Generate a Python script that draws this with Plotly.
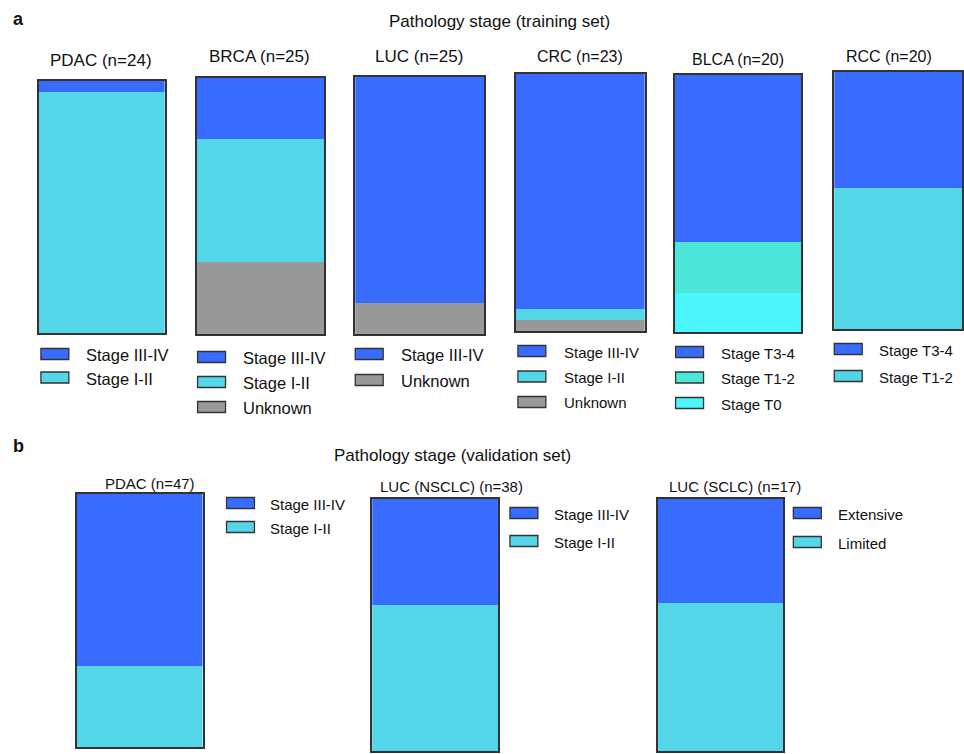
import plotly.graph_objects as go

W, H = 964, 754
FONT = "Liberation Sans, Arial, Helvetica, sans-serif"

# ---------------- data ----------------
panels = ["PDAC (n=24)", "BRCA (n=25)", "LUC (n=25)", "CRC (n=23)", "BLCA (n=20)", "RCC (n=20)",
          "PDAC (n=47)", "LUC (NSCLC) (n=38)", "LUC (SCLC) (n=17)"]

# categories per panel, listed bottom -> top of the stack
pdac_a_cats = ["Stage I-II", "Stage III-IV"]
pdac_a_vals = [23, 1]
brca_cats = ["Unknown", "Stage I-II", "Stage III-IV"]
brca_vals = [7, 12, 6]
luc_cats = ["Unknown", "Stage III-IV"]
luc_vals = [3, 22]
crc_cats = ["Unknown", "Stage I-II", "Stage III-IV"]
crc_vals = [1, 1, 21]
blca_cats = ["Stage T0", "Stage T1-2", "Stage T3-4"]
blca_vals = [3, 4, 13]
rcc_cats = ["Stage T1-2", "Stage T3-4"]
rcc_vals = [11, 9]
pdac_b_cats = ["Stage I-II", "Stage III-IV"]
pdac_b_vals = [15, 32]
nsclc_cats = ["Stage I-II", "Stage III-IV"]
nsclc_vals = [22, 16]
sclc_cats = ["Limited", "Extensive"]
sclc_vals = [10, 7]

BLUE, CYAN, GREY, TEAL, AQUA = "#386CFF", "#52D6E8", "#999999", "#4DE6DA", "#4CF7FC"
cat_colors = {
    "Stage III-IV": BLUE, "Stage I-II": CYAN, "Unknown": GREY,
    "Stage T3-4": BLUE, "Stage T1-2": CYAN, "Stage T0": AQUA,
    "Extensive": BLUE, "Limited": CYAN,
}
blca_colors = {"Stage T3-4": BLUE, "Stage T1-2": TEAL, "Stage T0": AQUA}

series = [
    (pdac_a_cats, pdac_a_vals, cat_colors),
    (brca_cats, brca_vals, cat_colors),
    (luc_cats, luc_vals, cat_colors),
    (crc_cats, crc_vals, cat_colors),
    (blca_cats, blca_vals, blca_colors),
    (rcc_cats, rcc_vals, cat_colors),
    (pdac_b_cats, pdac_b_vals, cat_colors),
    (nsclc_cats, nsclc_vals, cat_colors),
    (sclc_cats, sclc_vals, cat_colors),
]

# ---------------- layout (pixels) ----------------
# bar box: x0, x1, top, bottom
boxes = [(39, 165, 81, 333), (197, 325, 78, 334), (356, 485, 77, 334),
         (517, 646, 74, 331), (676, 803, 75, 332), (836, 964, 72, 329),
         (77, 203, 494, 747), (373, 499, 499, 751), (659, 785, 499, 751)]
# title center x, y, size
titles = [(101, 60, 17), (260, 56, 17), (420, 56, 17), (581, 57, 16), (740, 59, 16), (891, 56, 16),
          (150, 484, 15), (452, 486, 15), (737, 486, 15)]
# legend: swatch x0, first y center, spacing, text x, font size
legends = [(41, 354, 23.5, 84, 16.5), (198, 357, 25, 241, 16.5), (356, 354, 26, 400, 16.5),
           (519, 351, 25.5, 563, 15), (677, 352, 25.5, 720, 15), (836, 349, 27, 879, 15),
           (227, 503, 24, 269, 15), (511, 513, 28, 553, 15), (795, 513, 29, 838, 15)]

fig = go.Figure()
shapes, annotations = [], []


def px(x):
    return x / W


def py(y):
    return 1 - y / H


for i, ((cats, vals, cmap), (x0, x1, top, bot)) in enumerate(zip(series, boxes)):
    k = i + 1
    xa = "x" if k == 1 else f"x{k}"
    ya = "y" if k == 1 else f"y{k}"
    for c, v in zip(cats, vals):
        fig.add_trace(go.Bar(x=[0], y=[v], name=c, width=1, marker_color=cmap[c],
                             marker_line_width=0, xaxis=xa, yaxis=ya, showlegend=False))
    axcommon = dict(showline=True, mirror=True, linecolor="#333333", linewidth=1.6,
                    showgrid=False, zeroline=False, showticklabels=False, ticks="", fixedrange=True)
    fig.layout[f"xaxis{'' if k == 1 else k}"] = dict(domain=[px(x0), px(x1)], range=[-0.5, 0.5],
                                                    anchor=ya, **axcommon)
    fig.layout[f"yaxis{'' if k == 1 else k}"] = dict(domain=[py(bot), py(top)], range=[0, sum(vals)],
                                                    anchor=xa, **axcommon)
    tx, ty, ts = titles[i]
    annotations.append(dict(text=panels[i], x=px(tx), y=py(ty), xref="paper", yref="paper",
                            xanchor="center", yanchor="middle", showarrow=False,
                            font=dict(family=FONT, size=ts, color="#111111")))
    sx, sy, sp, tx2, fs = legends[i]
    for j, c in enumerate(reversed(cats)):
        cy = sy + j * sp
        shapes.append(dict(type="rect", xref="paper", yref="paper",
                           x0=px(sx), x1=px(sx + 28), y0=py(cy + 5.5), y1=py(cy - 5.5),
                           fillcolor=cmap[c], line=dict(color="#333333", width=1.3)))
        annotations.append(dict(text=c, x=px(tx2), y=py(cy + 1), xref="paper", yref="paper",
                                xanchor="left", yanchor="middle", showarrow=False,
                                font=dict(family=FONT, size=fs, color="#111111")))

# panel labels and section titles
annotations += [
    dict(text="<b>a</b>", x=px(11), y=py(19), xanchor="left", yanchor="middle"),
    dict(text="Pathology stage (training set)", x=px(501), y=py(22), xanchor="center", yanchor="middle"),
    dict(text="<b>b</b>", x=px(11), y=py(446), xanchor="left", yanchor="middle"),
    dict(text="Pathology stage (validation set)", x=px(453), y=py(455), xanchor="center", yanchor="middle"),
]
for a in annotations[-4:]:
    a.update(xref="paper", yref="paper", showarrow=False,
             font=dict(family=FONT, size=18 if a["text"].startswith("<b>") else 17, color="#111111"))

fig.update_layout(width=W, height=H, margin=dict(l=0, r=0, t=0, b=0),
                  paper_bgcolor="white", plot_bgcolor="white", barmode="stack", bargap=0,
                  showlegend=False, shapes=shapes, annotations=annotations)

fig.write_html("out.html", config={"displayModeBar": False},
               post_script="document.body.style.margin='0';document.body.style.overflow='hidden';")
